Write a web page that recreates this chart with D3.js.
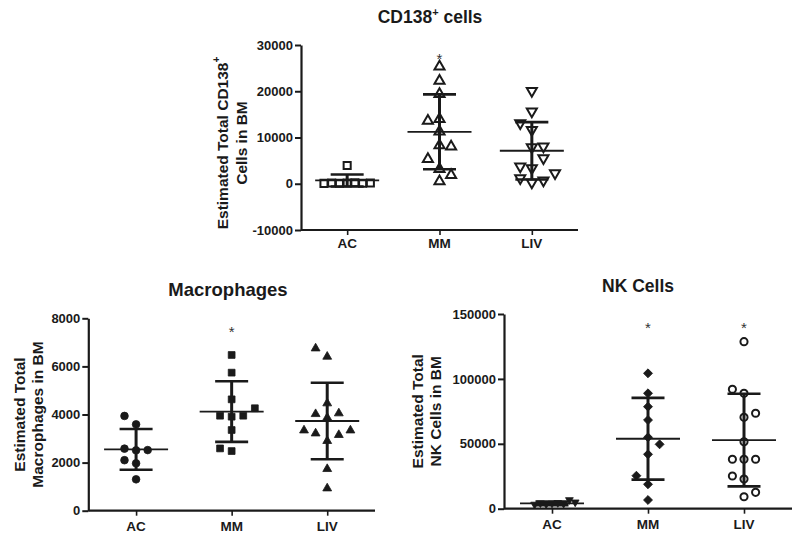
<!DOCTYPE html>
<html><head><meta charset="utf-8">
<script src="https://cdn.jsdelivr.net/npm/d3@7"></script>
<style>
body{margin:0;background:#fff;}
svg{display:block;font-family:"Liberation Sans",Arial,Helvetica,sans-serif;}
</style>
</head><body>
<svg id="chart" width="800" height="535"></svg>
<script>
// ---------- data ----------
const categories = ["AC", "MM", "LIV"];

// CD138+ cells
const cd138AC  = [3950, 150, 100, 200, 120, 180, 80, 160];
const cd138MM  = [25330, 22250, 19370, 13970, 13600, 11300, 8280, 8060, 3170, 5330, 500, 1870];
const cd138LIV = [20090, 15620, 11660, 13110, 7930, 8060, 3390, 3740, 5550, 280, 1230, 700, 2310];
const cd138Mean = [710, 11230, 7130];
const cd138SD   = [1290, 8100, 6200];
const cd138Ticks = [-10000, 0, 10000, 20000, 30000];

// Macrophages
const macAC  = [3590, 3940, 2510, 2520, 2580, 1970, 2100, 1305];
const macMM  = [6475, 5740, 4630, 3910, 3950, 3950, 4260, 3355, 2480, 2590];
const macLIV = [6405, 6750, 4465, 3870, 4050, 4020, 2900, 3150, 3215, 3340, 3340, 1735, 930];
const macMean = [2550, 4120, 3730];
const macSD   = [845, 1260, 1590];
const macTicks = [0, 2000, 4000, 6000, 8000];

// NK cells
const nkAC  = [4100, 3600, 4500, 3900, 4300, 3300, 6800, 5000];
const nkMM  = [104300, 88900, 78600, 68300, 55000, 41900, 18800, 25400, 49600, 6700];
const nkLIV = [128700, 88900, 92000, 70400, 73500, 51600, 38100, 38100, 38100, 22900, 25200, 9200, 12600];
const nkMean = [4160, 53900, 52900];
const nkSD   = [1400, 31500, 35700];
const nkTicks = [0, 50000, 100000, 150000];

const cd138Sig = [false, true, false];
const macSig   = [false, true, false];
const nkSig    = [false, true, true];

// ---------- layout ----------
const svg = d3.select("#chart");
const INK = "#1a1a1a";

const panels = [
  {
    title: ["CD138", "+", " cells"], titleX: 430, titleY: 23, titleSize: 17.5,
    label1: ["Estimated Total CD138", "+"], label2: "Cells in BM", labelX: [222, 241], labelCy: 143,
    x0: 301, x1: 578, yTop: 45, yBot: 230, domain: [-10000, 30000], ticks: cd138Ticks,
    groups: [cd138AC, cd138MM, cd138LIV], mean: cd138Mean, sd: cd138SD, sig: cd138Sig,
    markers: [
      {type: d3.symbolSquare, size: 50, open: true, rot: 0},
      {type: d3.symbolTriangle, size: 44, open: true, rot: 0},
      {type: d3.symbolTriangle, size: 44, open: true, rot: 180}
    ], catDy: 18
  },
  {
    title: ["Macrophages"], titleX: 228, titleY: 296, titleSize: 18.5,
    label1: ["Estimated Total"], label2: "Macrophages in BM", labelX: [18.5, 37], labelCy: 414.5,
    x0: 88.3, x1: 375, yTop: 318.3, yBot: 510.7, domain: [0, 8000], ticks: macTicks,
    groups: [macAC, macMM, macLIV], mean: macMean, sd: macSD, sig: macSig,
    markers: [
      {type: d3.symbolCircle, size: 46, open: false, rot: 0},
      {type: d3.symbolSquare, size: 46, open: false, rot: 0},
      {type: d3.symbolTriangle, size: 34, open: false, rot: 0}
    ], catDy: 20
  },
  {
    title: ["NK Cells"], titleX: 638, titleY: 292, titleSize: 17.5,
    label1: ["Estimated Total"], label2: "NK Cells in BM", labelX: [417, 435.5], labelCy: 411.3,
    x0: 504, x1: 792, yTop: 314, yBot: 508.7, domain: [0, 150000], ticks: nkTicks,
    groups: [nkAC, nkMM, nkLIV], mean: nkMean, sd: nkSD, sig: nkSig,
    markers: [
      {type: d3.symbolTriangle, size: 26, open: false, rot: 180},
      {type: d3.symbolSquare, size: 40, open: false, rot: 45},
      {type: d3.symbolCircle, size: 40, open: true, rot: 0}
    ], catDy: 20
  }
];

const D = 11.6;    // horizontal step of the scatter
const THR = 11;    // vertical collision distance

function swarm(vals, y) {
  const placed = [];
  let side = -1;
  vals.forEach(v => {
    const py = y(v);
    const free = o => !placed.some(p => Math.abs(p.o - o) < D / 2 && Math.abs(p.y - py) < THR);
    let off = 0;
    if (!free(0)) {
      for (let k = 1; k < 30; k++) {
        const first = k === 1 ? side : -side;
        if (free(first * k * D)) { off = first * k * D; break; }
        if (free(-first * k * D)) { off = -first * k * D; break; }
      }
      side = off > 0 ? -1 : 1;
    }
    placed.push({v: v, y: py, o: off});
  });
  const maxAbs = d3.max(placed, p => Math.abs(p.o));
  if (maxAbs > 2 * D) {
    const s = 2 * D / maxAbs;
    placed.forEach(p => { p.o *= s; });
  }
  return placed;
}

panels.forEach(P => {
  const g = svg.append("g");
  const x = d3.scalePoint().domain(categories).range([P.x0, P.x1]).padding(0.5);
  const y = d3.scaleLinear().domain(P.domain).range([P.yBot, P.yTop]);

  // title
  const t = g.append("text").attr("x", P.titleX).attr("y", P.titleY)
    .attr("text-anchor", "middle").attr("font-weight", "bold").attr("font-size", P.titleSize).attr("fill", INK);
  if (P.title.length === 3) {
    t.append("tspan").text(P.title[0]);
    t.append("tspan").text(P.title[1]).attr("font-size", 11).attr("dy", -7);
    t.append("tspan").text(P.title[2]).attr("dy", 7);
  } else {
    t.text(P.title[0]);
  }

  // y label
  const cy = P.labelCy;
  const l1 = g.append("text").attr("transform", `translate(${P.labelX[0]},${cy}) rotate(-90)`)
    .attr("text-anchor", "middle").attr("dominant-baseline", "central")
    .attr("font-weight", "bold").attr("font-size", 15.5).attr("fill", INK);
  l1.append("tspan").text(P.label1[0]);
  if (P.label1.length > 1) {
    l1.append("tspan").text(P.label1[1]).attr("font-size", 10).attr("dy", -6);
  }
  g.append("text").attr("transform", `translate(${P.labelX[1]},${cy}) rotate(-90)`)
    .attr("text-anchor", "middle").attr("dominant-baseline", "central")
    .attr("font-weight", "bold").attr("font-size", 15.5).attr("fill", INK)
    .text(P.label2);

  // y axis
  const ya = g.append("g").attr("transform", `translate(${P.x0},0)`)
    .call(d3.axisLeft(y).tickValues(P.ticks).tickFormat(d => String(d)).tickSize(6).tickSizeOuter(0).tickPadding(2));
  ya.select(".domain").attr("stroke", INK).attr("stroke-width", 2.2);
  ya.selectAll(".tick line").attr("stroke", INK).attr("stroke-width", 2);
  ya.selectAll(".tick text").attr("font-size", 13).attr("font-weight", "bold").attr("fill", INK)
    .attr("font-family", "Liberation Sans, Arial, sans-serif");

  // x axis
  const xa = g.append("g").attr("transform", `translate(0,${P.yBot})`)
    .call(d3.axisBottom(x).tickSize(5).tickSizeOuter(0).tickFormat(""));
  xa.select(".domain").attr("stroke", INK).attr("stroke-width", 2.2).attr("d", `M${P.x0},0H${P.x1}`);
  xa.selectAll(".tick line").attr("stroke", INK).attr("stroke-width", 1.6);
  g.selectAll(".cat").data(categories).join("text").attr("class", "cat")
    .attr("x", d => x(d)).attr("y", P.yBot + P.catDy)
    .attr("text-anchor", "middle").attr("font-weight", "bold").attr("font-size", 13.5).attr("fill", INK)
    .text(d => d);

  // points
  P.groups.forEach((vals, i) => {
    const cx = x(categories[i]);
    const m = P.markers[i];
    const sym = d3.symbol().type(m.type).size(m.size);
    const pts = swarm(vals, y);
    g.selectAll(null).data(pts).join("path")
      .attr("d", sym)
      .attr("transform", p => `translate(${cx + p.o},${p.y}) rotate(${m.rot})`)
      .attr("fill", m.open ? "none" : INK)
      .attr("stroke", INK)
      .attr("stroke-width", m.open ? 2 : 0.8)
      .attr("stroke-linejoin", "miter");
  });

  // mean + SD
  categories.forEach((c, i) => {
    const cx = x(c);
    const mv = P.mean[i], sv = P.sd[i];
    g.append("line").attr("x1", cx).attr("x2", cx).attr("y1", y(mv + sv)).attr("y2", y(mv - sv))
      .attr("stroke", INK).attr("stroke-width", 3);
    [mv + sv, mv - sv].forEach(v => {
      g.append("line").attr("x1", cx - 16.5).attr("x2", cx + 16.5).attr("y1", y(v)).attr("y2", y(v))
        .attr("stroke", INK).attr("stroke-width", 2.6);
    });
    g.append("line").attr("x1", cx - 32).attr("x2", cx + 32).attr("y1", y(mv)).attr("y2", y(mv))
      .attr("stroke", INK).attr("stroke-width", 1.8);
    if (P.sig[i]) {
      g.append("text").attr("x", cx).attr("y", P.yTop + 10 + 8.5)
        .attr("text-anchor", "middle").attr("font-size", 15).attr("fill", "#333").text("*");
    }
  });
});
</script>
</body></html>
